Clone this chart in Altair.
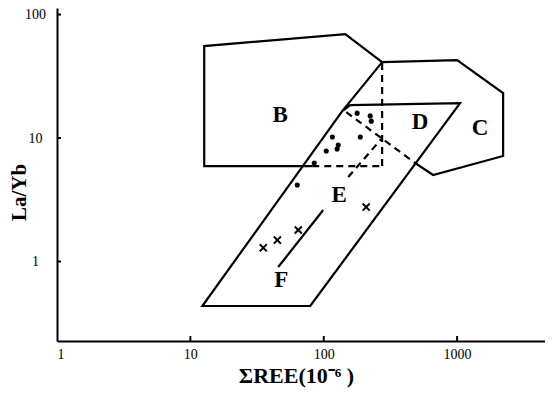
import altair as alt
import pandas as pd

# ---- axis tick values ----
x_label_values = [1, 10, 100, 1000]
x_tick_marks = [10, 100, 1000]
y_tick_values = [1, 10, 100]

# ---- solid outlines (polylines, data coordinates) ----
b_x = [82, 12.7, 12.7, 145, 274]
b_y = [5.93, 5.93, 55.6, 69.5, 41.2]

c_x = [274, 1000, 2213, 2213, 661, 484]
c_y = [41.2, 42.8, 23.1, 7.15, 5.02, 6.28]

def_x = [274, 137.6, 12.3, 79.2, 1052, 158, 137.6]
def_y = [41.2, 16.5, 0.436, 0.436, 19.2, 18.5, 16.5]

f_trend_x = [45.6, 99.1]
f_trend_y = [0.903, 2.61]

# ---- dashed lines ----
b_bottom_dash_x = [82, 274]
b_bottom_dash_y = [5.93, 5.93]

vert_dash_x = [274, 274]
vert_dash_y = [5.93, 41.2]

d_dash_x = [147.5, 484]
d_dash_y = [16.2, 6.28]

e_dash_x = [152.6, 270]
e_dash_y = [4.83, 9.81]

# ---- samples ----
dot_x = [178, 223, 227, 188, 116, 128.5, 126, 104.4, 84.9, 63.3]
dot_y = [15.9, 15.1, 13.7, 10.2, 10.2, 8.78, 8.15, 7.85, 6.28, 4.16]

cross_x = [35.2, 44.9, 64.4, 208]
cross_y = [1.29, 1.49, 1.80, 2.76]

# ---- field labels ----
lab_text = ["B", "C", "D", "E", "F"]
lab_x = [47.2, 1486, 528, 130.7, 48.0]
lab_y = [15.4, 12.05, 13.5, 3.46, 0.708]


def polylines(parts):
    rows = []
    for name, xs, ys in parts:
        for i, (a, b) in enumerate(zip(xs, ys)):
            rows.append({"seg": name, "ord": i, "x": a, "y": b})
    return pd.DataFrame(rows)


solid_df = polylines([("B", b_x, b_y), ("C", c_x, c_y),
                      ("DEF", def_x, def_y), ("Ftrend", f_trend_x, f_trend_y)])
dash_df = polylines([("Bb", b_bottom_dash_x, b_bottom_dash_y),
                     ("V", vert_dash_x, vert_dash_y),
                     ("Dd", d_dash_x, d_dash_y),
                     ("Ed", e_dash_x, e_dash_y)])
dots_df = pd.DataFrame({"x": dot_x, "y": dot_y})
cross_df = pd.DataFrame({"x": cross_x, "y": cross_y})
lab_df = pd.DataFrame({"x": lab_x, "y": lab_y, "t": lab_text})
xt_df = pd.DataFrame({"x": x_tick_marks})
yt_df = pd.DataFrame({"y": y_tick_values})

W, H = 488, 333
serif = "Liberation Serif"

xscale = alt.Scale(type="log", domain=[1, 4560], nice=False)
yscale = alt.Scale(type="log", domain=[0.227, 113], nice=False)

X = alt.X("x:Q", scale=xscale,
          axis=alt.Axis(values=x_label_values, format="d", title="ΣREE(10⁻⁶ )",
                        titleX=239, titleY=41, titleBaseline="alphabetic",
                        titleAlign="center", labelPadding=6))
Y = alt.Y("y:Q", scale=yscale,
          axis=alt.Axis(values=y_tick_values, format="d", title="La/Yb",
                        titleX=-38, titleY=184, titleBaseline="middle",
                        titleAlign="center", titleAngle=270,
                        labelAlign="center", labelPadding=22))

solid = alt.Chart(solid_df).mark_line(color="black", strokeWidth=2.2, strokeJoin="miter").encode(
    x=X, y=Y, detail="seg:N", order="ord:Q")
dashed = alt.Chart(dash_df).mark_line(color="black", strokeWidth=2.2, strokeDash=[7, 5]).encode(
    x=X, y=Y, detail="seg:N", order="ord:Q")
dots = alt.Chart(dots_df).mark_point(filled=True, shape="circle", size=26, color="black", opacity=1).encode(
    x=X, y=Y)
crosses = alt.Chart(cross_df).mark_point(shape="M-1,-1L1,1M-1,1L1,-1", filled=False, size=50,
                                         color="black", strokeWidth=2, opacity=1).encode(x=X, y=Y)
labels = alt.Chart(lab_df).mark_text(font=serif, fontWeight="bold", fontSize=23, color="black",
                                     align="center", baseline="middle").encode(x=X, y=Y, text="t:N")
xticks = alt.Chart(xt_df).mark_rule(color="black", strokeWidth=2).encode(
    x=X, y=alt.value(H), y2=alt.value(H - 5))
yticks = alt.Chart(yt_df).mark_rule(color="black", strokeWidth=2).encode(
    y=Y, x=alt.value(0), x2=alt.value(4))

chart = alt.layer(solid, dashed, dots, crosses, labels, xticks, yticks).properties(
    width=W, height=H,
    autosize=alt.AutoSizeParams(type="none"),
    padding={"left": 49, "top": 0, "right": 0, "bottom": 52},
).configure_view(stroke=None).configure_axis(
    grid=False, ticks=False, domainColor="black", domainWidth=2,
    labelFont=serif, labelFontSize=14, labelColor="black",
    titleFont=serif, titleFontWeight="bold", titleColor="black",
).configure_axisX(titleFontSize=22).configure_axisY(titleFontSize=21)

chart.save("out.html", embed_options={"renderer": "svg", "actions": False})
